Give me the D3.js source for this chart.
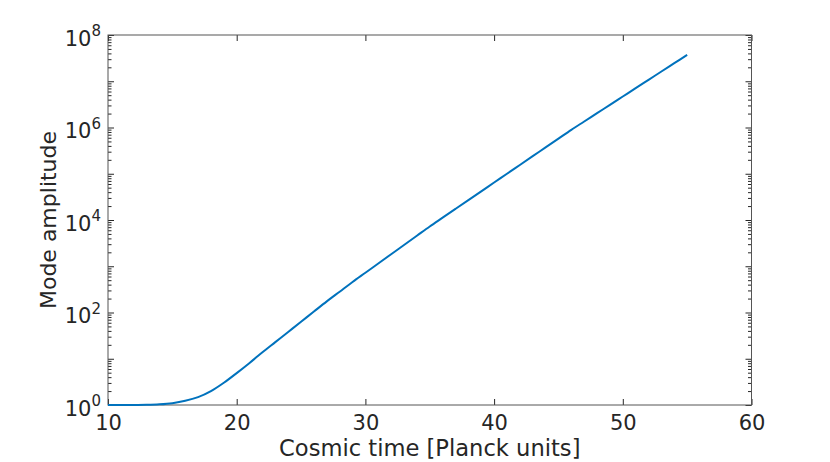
<!DOCTYPE html>
<html>
<head>
<meta charset="utf-8">
<script src="https://cdn.jsdelivr.net/npm/d3@7"></script>
<style>
  body { margin: 0; background: #fff; }
  svg { display: block; font-family: "DejaVu Sans", sans-serif; }
</style>
</head>
<body>
<svg id="chart" width="830" height="462"></svg>
<script>
// cosmic time (Planck units) and mode amplitude
var times = [10, 11, 12, 13, 14, 15, 16, 17, 18, 19, 20, 21, 22, 23, 24, 25, 26, 27, 28, 29, 30,
  31, 32, 33, 34, 35, 36, 37, 38, 39, 40, 41, 42, 43, 44, 45, 46, 47, 48, 49, 50,
  51, 52, 53, 54, 55];
var amplitude = [1.0, 1.0, 1.0, 1.009, 1.035, 1.096, 1.230, 1.479, 1.995, 3.020, 4.898, 8.128, 13.8, 22.9, 38.0, 63.1,
  105, 174, 282, 457, 724, 1148, 1820, 2884, 4571, 7244, 11220, 17380, 26920, 41690, 64570,
  1.0e5, 1.549e5, 2.399e5, 3.715e5, 5.754e5, 8.913e5, 1.349e6, 2.042e6, 3.090e6, 4.677e6,
  7.079e6, 1.072e7, 1.622e7, 2.455e7, 3.715e7];

var xTicks = [10, 20, 30, 40, 50, 60];
var yDecades = [1, 10, 100, 1e3, 1e4, 1e5, 1e6, 1e7, 1e8];
var yLabelled = [0, 2, 4, 6, 8]; // exponents that carry a label

var data = times.map(function(t, i) { return {t: t, a: amplitude[i]}; });

var margin = {top: 35, right: 78.5, bottom: 57, left: 108};
var width = 830 - margin.left - margin.right,
    height = 462 - margin.top - margin.bottom;

var svg = d3.select("#chart");
var g = svg.append("g").attr("transform", "translate(" + margin.left + "," + margin.top + ")");

var x = d3.scaleLinear().domain([10, 60]).range([0, width]);
var y = d3.scaleLog().domain([1, 1e8]).range([height, 0]);

var axisColor = "#262626";

// minor log ticks (2..9 in each decade)
var minors = y.ticks().filter(function(v) {
  return yDecades.indexOf(v) < 0;
});

function styleAxis(sel) {
  sel.select(".domain").remove();
  sel.selectAll(".tick line").attr("stroke", axisColor).attr("stroke-width", 1);
  sel.selectAll("text").attr("fill", axisColor).style("font-size", "21px")
    .style("font-family", "DejaVu Sans, sans-serif");
}

// x axes (bottom labelled, top mirrored)
g.append("g").attr("transform", "translate(0," + height + ")")
  .call(d3.axisBottom(x).tickValues(xTicks).tickSizeInner(-6).tickSizeOuter(0).tickPadding(10))
  .call(styleAxis);
g.append("g")
  .call(d3.axisTop(x).tickValues(xTicks).tickSizeInner(-6).tickSizeOuter(0).tickFormat(""))
  .call(styleAxis);

// y axes: major decade ticks + minor ticks, left and right
g.append("g")
  .call(d3.axisLeft(y).tickValues(minors).tickSizeInner(-3.5).tickSizeOuter(0).tickFormat(""))
  .call(styleAxis);
g.append("g").attr("transform", "translate(" + width + ",0)")
  .call(d3.axisRight(y).tickValues(minors).tickSizeInner(-3.5).tickSizeOuter(0).tickFormat(""))
  .call(styleAxis);
g.append("g").attr("transform", "translate(" + width + ",0)")
  .call(d3.axisRight(y).tickValues(yDecades).tickSizeInner(-6).tickSizeOuter(0).tickFormat(""))
  .call(styleAxis);

var yAxisLeft = g.append("g")
  .call(d3.axisLeft(y).tickValues(yDecades).tickSizeInner(-6).tickSizeOuter(0).tickPadding(7)
    .tickFormat(function(d) {
      var e = Math.round(Math.log10(d));
      return yLabelled.indexOf(e) >= 0 ? String(e) : "";
    }))
  .call(styleAxis);

// rewrite labels as 10 with superscript exponent
yAxisLeft.selectAll(".tick text").each(function() {
  var t = d3.select(this);
  var e = t.text();
  if (!e) return;
  t.text(null).attr("dy", "0.48em");
  t.append("tspan").text("10");
  t.append("tspan").attr("dy", "-0.62em").style("font-size", "15px").text(e);
});

// box
g.append("rect")
  .attr("width", width).attr("height", height)
  .attr("fill", "none").attr("stroke", "#555").attr("stroke-width", 1);

// the curve
var line = d3.line()
  .x(function(d) { return x(d.t); })
  .y(function(d) { return y(d.a); })
  .curve(d3.curveCatmullRom);

g.append("path").datum(data)
  .attr("fill", "none")
  .attr("stroke", "#0072BD")
  .attr("stroke-width", 2)
  .attr("d", line);

// axis labels
svg.append("text")
  .attr("x", margin.left + width / 2).attr("y", 456)
  .attr("text-anchor", "middle").attr("fill", axisColor)
  .style("font-size", "22.6px").text("Cosmic time [Planck units]");

svg.append("text")
  .attr("transform", "translate(56," + (margin.top + height / 2) + ") rotate(-90)")
  .attr("text-anchor", "middle").attr("fill", axisColor)
  .style("font-size", "22px").text("Mode amplitude");
</script>
</body>
</html>
